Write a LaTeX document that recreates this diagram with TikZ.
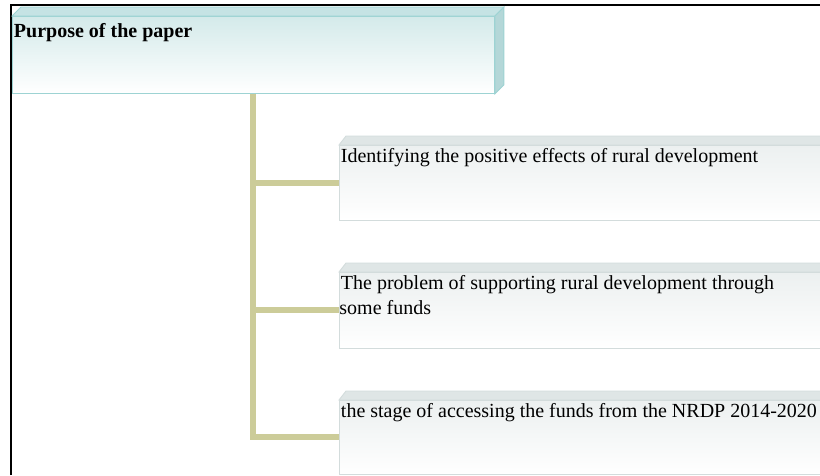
\documentclass[tikz,border=0pt]{standalone}
\usepackage{fontspec}
\setmainfont{Liberation Serif}
\usetikzlibrary{positioning, calc}
\definecolor{tealtop}{HTML}{D4EAEA}
\definecolor{tealedge}{HTML}{9DD3D3}
\definecolor{teallid}{HTML}{C5E3E4}
\definecolor{tealside}{HTML}{B4D7D8}
\definecolor{greytop}{HTML}{ECF0F0}
\definecolor{greyedge}{HTML}{D3DCDC}
\definecolor{greylid}{HTML}{DFE6E6}
\definecolor{branchcol}{HTML}{CCCC99}
\tikzset{
    goalbox/.style={draw=tealedge, line width=0.9pt, top color=tealtop, bottom color=white,
        inner sep=0pt, anchor=north west, font=\bfseries\fontsize{20}{25}\selectfont},
    itembox/.style={draw=greyedge, line width=0.9pt, top color=greytop, bottom color=white,
        inner sep=0pt, anchor=north west, font=\fontsize{20}{25}\selectfont},
    branch/.style={draw=branchcol, line width=6pt},
    frame/.style={draw=black, line width=2pt}
}
% text box of fixed size, text at the top
\newcommand{\boxtext}[4][17.5pt]{\parbox[t][#3][t]{#2}{\hspace*{1.5pt}\rule{0pt}{#1}#4}}
% slanted lid (and side) of a box
\newcommand{\lid}[4]{%
    \filldraw[fill=#2, draw=#3, line width=0.9pt] (#1.north west) -- ++(#4,-9)
        -- ($(#1.north east)+(#4,-9)$) -- (#1.north east) -- cycle;}
\newcommand{\side}[3]{%
    \filldraw[fill=#2, draw=#3, line width=0.9pt] (#1.north east) -- ++(9,-9)
        -- ($(#1.south east)+(9,-9)$) -- (#1.south east) -- cycle;}

\begin{document}
\begin{tikzpicture}[x=1pt, y=-1pt]
    \clip (0,0) rectangle (820,475);
    % Frame
    \draw[frame] (10.5,475) -- (10.5,5) -- (820,5);
    % Purpose
    \node[goalbox] (goal) at (12,16) {\boxtext[21pt]{482pt}{77pt}{Purpose of the paper}};
    \lid{goal}{teallid}{tealedge}{9}
    \side{goal}{tealside}{tealedge}
    % Items
    \node[itembox] (item1) at (339,145) {\boxtext{520pt}{75pt}{Identifying the positive effects of rural development}};
    \lid{item1}{greylid}{greyedge}{7}
    \node[itembox] (item2) at (339,272) {\boxtext{520pt}{76pt}{The problem of supporting rural development through\\ some funds}};
    \lid{item2}{greylid}{greyedge}{7}
    \node[itembox] (item3) at (339,400) {\boxtext{520pt}{74pt}{the stage of accessing the funds from the NRDP 2014-2020}};
    \lid{item3}{greylid}{greyedge}{7}
    % Branches
    \draw[branch] (goal.south) |- (item3.west);
    \draw[branch] (goal.south |- item1.west) -- (item1.west);
    \draw[branch] (goal.south |- item2.west) -- (item2.west);
\end{tikzpicture}
\end{document}
